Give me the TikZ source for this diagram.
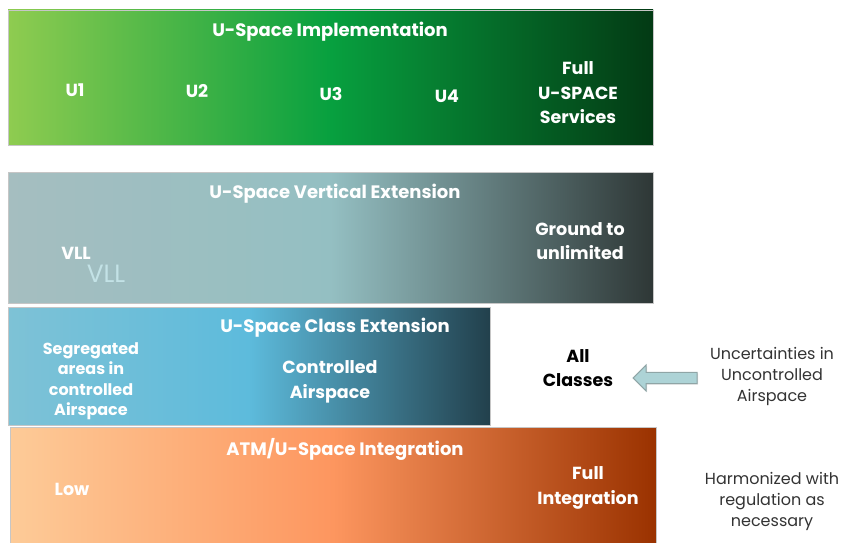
\documentclass[tikz,border=0pt]{standalone}
\usepackage{fontspec}
\setmainfont{Poppins}
\usepackage{xcolor}
\usepackage{tikz}
\usetikzlibrary{shapes.arrows,shadows,calc}
\definecolor{implA}{HTML}{8FCC50}
\definecolor{implB}{HTML}{07A03F}
\definecolor{implC}{HTML}{033A14}
\definecolor{vertA}{HTML}{A5BEC0}
\definecolor{vertB}{HTML}{94BFC2}
\definecolor{vertC}{HTML}{2E3736}
\definecolor{clsA}{HTML}{7EC2D6}
\definecolor{clsB}{HTML}{5DBBDC}
\definecolor{clsC}{HTML}{22404C}
\definecolor{intA}{HTML}{FDCB98}
\definecolor{intB}{HTML}{FD965F}
\definecolor{intC}{HTML}{9A3200}
\definecolor{vllfade}{HTML}{C3E2E6}
\definecolor{arrfill}{HTML}{ADD3D6}
\definecolor{arredge}{HTML}{8FA5A6}
\tikzset{
  bar/.style={draw=gray!45, line width=0.8pt},
  title/.style={text=white, font=\bfseries\fontsize{18}{22}\selectfont},
  lbl/.style={text=white, font=\bfseries\fontsize{17.5}{24.5}\selectfont, align=center},
  small/.style={text=white, font=\bfseries\fontsize{16}{20.5}\selectfont, align=center},
  note/.style={text=black!80, font=\fontsize{16}{21}\selectfont, align=center}
}
\begin{document}
\begin{tikzpicture}[x=1pt,y=-1pt]
\useasboundingbox (0,0) rectangle (846,543);
\shade[bar, left color=implA, right color=implC, middle color=implB] (8,10) rectangle (653,145);
\shade[bar, left color=vertA, right color=vertC, middle color=vertB] (8,172) rectangle (653,303);
\shade[bar, left color=clsA, right color=clsC, middle color=clsB] (8,307) rectangle (490,425);
\shade[bar, left color=intA, right color=intC, middle color=intB] (10,427) rectangle (656,560);

\node[title] (impl) at (330,32) {U-Space Implementation};
\node[lbl] (u1) at (75,90) {U1};
\node[lbl] (u2) at (197,91) {U2};
\node[lbl] (u3) at (331,94) {U3};
\node[lbl] (u4) at (447,96) {U4};
\node[lbl] (full) at (578,93) {Full\\U-SPACE\\Services};

\node[title] (vert) at (335,194) {U-Space Vertical Extension};
\node[lbl] (vll) at (76,253) {VLL};
\node[text=vllfade, font=\fontsize{25}{28}\selectfont] (vllb) at (106,274) {VLL};
\node[lbl] (ground) at (580,241) {Ground to\\unlimited};

\node[title] (cls) at (335,328) {U-Space Class Extension};
\node[small] (segr) at (91,381) {Segregated\\areas in\\controlled\\Airspace};
\node[lbl] (ctrl) at (330,382) {Controlled\\Airspace};
\node[lbl, text=black] (allcls) at (578,368) {All\\Classes};
\node[note] (uncert) at (772,376) {Uncertainties in\\Uncontrolled\\Airspace};
\node[single arrow, shape border rotate=180, fill=arrfill, draw=arredge, line width=1pt,
  inner sep=5pt, minimum width=26pt, minimum height=64pt, single arrow head extend=7pt,
  drop shadow={shadow xshift=1pt, shadow yshift=-1pt, opacity=0.25}] (arr) at (668,378) {};

\node[title] (integ) at (345,449) {ATM/U-Space Integration};
\node[lbl] (low) at (72,489) {Low};
\node[lbl] (fullint) at (588,488) {Full\\Integration};
\node[note] (harm) at (772,501) {Harmonized with\\regulation as\\necessary};
\end{tikzpicture}
\end{document}
